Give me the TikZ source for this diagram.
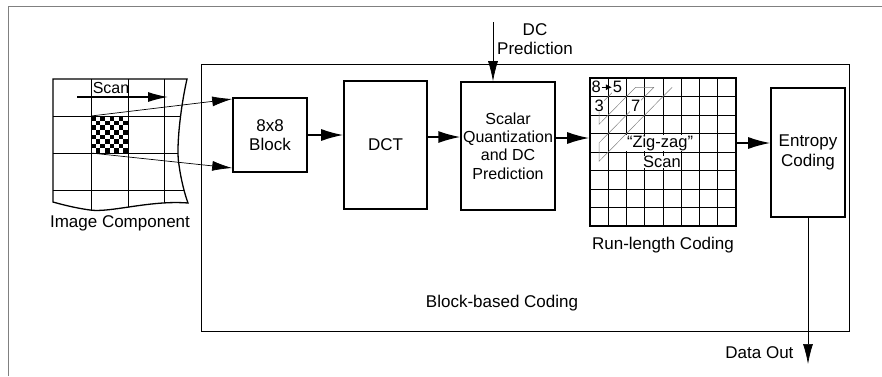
\documentclass[tikz,border=0pt]{standalone}
\usepackage{fontspec}
\setmainfont{Liberation Sans}
\usetikzlibrary{arrows.meta}

\tikzset{
  stage/.style={draw, line width=1.6pt, align=center, inner sep=2pt},
  flow/.style={line width=1.5pt, -{Latex[length=22pt,width=12pt]}},
  feed/.style={line width=0.7pt, -{Latex[length=20pt,width=10pt]}},
  cellnum/.style={fill=white, inner sep=0.6pt, font=\fontsize{16.5}{16}\selectfont},
}

\begin{document}
\begin{tikzpicture}[x=1pt, y=-1pt, font=\fontsize{17}{19.5}\selectfont]

    \useasboundingbox (0,0) rectangle (882,376);

    % page frame and the block-based coding box
    \draw [gray, line width=1pt] (8,376) -- (8,6) -- (882,6);
    \draw [line width=0.9pt] (201,64) rectangle (849,331);

    % image component: torn sheet with a grid of blocks
    \begin{scope}
      \clip (53,79) -- (187,79) .. controls (180,110) and (176,150) .. (179,165)
        .. controls (181,180) and (185,195) .. (188,203)
        .. controls (150,200) and (110,213) .. (90,210)
        .. controls (75,208) and (60,204) .. (53,202) -- cycle;
      \foreach \x in {91,128,164}
        \draw [line width=0.8pt] (\x,79) -- (\x,215);
      \foreach \y in {116,153,190}
        \draw [line width=0.8pt] (53,\y) -- (190,\y);
    \end{scope}
    \draw [line width=1.3pt] (53,79) -- (187,79) .. controls (180,110) and (176,150) .. (179,165)
        .. controls (181,180) and (185,195) .. (188,203)
        .. controls (150,200) and (110,213) .. (90,210)
        .. controls (75,208) and (60,204) .. (53,202) -- cycle;

    % one 8x8 block
    \foreach \i in {0,...,7}
      \foreach \j in {0,...,7} {
        \pgfmathtruncatemacro\odd{mod(\i+\j,2)}
        \ifnum\odd=0
          \fill (91+\i*4.625, 116+\j*4.625) rectangle ++(4.625,4.625);
        \fi
      }
    \coordinate (chk tl) at (91,116);
    \coordinate (chk bl) at (91,153);

    \coordinate (scan a) at (77,97);
    \coordinate (scan b) at (168,97);
    \draw [feed, line width=1.2pt] (scan a) -- (scan b);
    \node [font=\fontsize{16}{18}\selectfont] (scanlbl) at (111,88) {Scan};
    \node (imglbl) at (120,223) {Image Component};

    % coding stages
    \node [stage, minimum width=74pt, minimum height=74pt] (blk) at (270,135) {8x8\\Block};
    \node [stage, minimum width=83pt, minimum height=128pt] (dct) at (385.5,145) {DCT};
    \node [stage, minimum width=92pt, minimum height=128pt,
      font=\fontsize{16}{18.3}\selectfont] (sq) at (508,146)
      {Scalar\\Quantization\\and DC\\Prediction};
    \node [draw, line width=1.6pt, minimum width=146pt, minimum height=148pt,
      inner sep=0pt] (rl) at (663,152) {};
    \node [stage, minimum width=74pt, minimum height=129pt] (ent) at (808,152.5) {Entropy\\Coding};

    % coefficient grid and zig-zag path
    \foreach \k in {1,...,7} {
      \draw [line width=0.8pt] (590+\k*18.25,78) -- ++(0,148);
      \draw [line width=0.8pt] (590,78+\k*18.5) -- ++(146,0);
    }
    \foreach \r in {1,...,8}
      \foreach \c in {1,...,8}
        \coordinate (c\r\c) at (590+\c*18.25-9.125, 78+\r*18.5-9.25);
    \draw [gray, line width=0.5pt] (c12) -- (c21) -- (c31) -- (c13) -- (c14)
      -- (c41) -- (c51) -- (c15);
    \node [cellnum] (n8) at ([xshift=-3pt]c11) {8};
    \node [cellnum] (n5) at (c12) {5};
    \node [cellnum] (n3) at (c21) {3};
    \node [cellnum] (n7) at (c23) {7};
    \draw [line width=1pt, -{Latex[length=6pt,width=6pt]}] (n8) -- (n5);
    \node [cellnum] (zz) at (660,143) {“Zig-zag”};
    \node [cellnum] (zzscan) at (662,162) {Scan};

    % connectors
    \draw [feed] (chk tl) -- (blk.west |- 0,99);
    \draw [feed] (chk bl) -- (blk.west |- 0,168);
    \draw [flow] (blk.east) -- (dct.west |- blk.east);
    \draw [flow] (dct.east |- 0,137) -- (sq.west |- 0,137);
    \draw [flow] (sq.east |- 0,138) -- (rl.west |- 0,138);
    \draw [flow] (rl.east |- 0,143) -- (ent.west |- 0,143);

    \coordinate (dcin) at (493,22);
    \draw [feed] (dcin) -- (sq.north -| dcin);
    \node [align=center] (dclbl) at (535,39) {DC\\Prediction};

    \coordinate (dout) at (808,364);
    \draw [feed] (ent.south) -- (dout);
    \node [anchor=east] (outlbl) at (797,353) {Data Out};

    \node (rllbl) at (663,245) {Run-length Coding};
    \node (bbclbl) at (502,303) {Block-based Coding};

\end{tikzpicture}
\end{document}
